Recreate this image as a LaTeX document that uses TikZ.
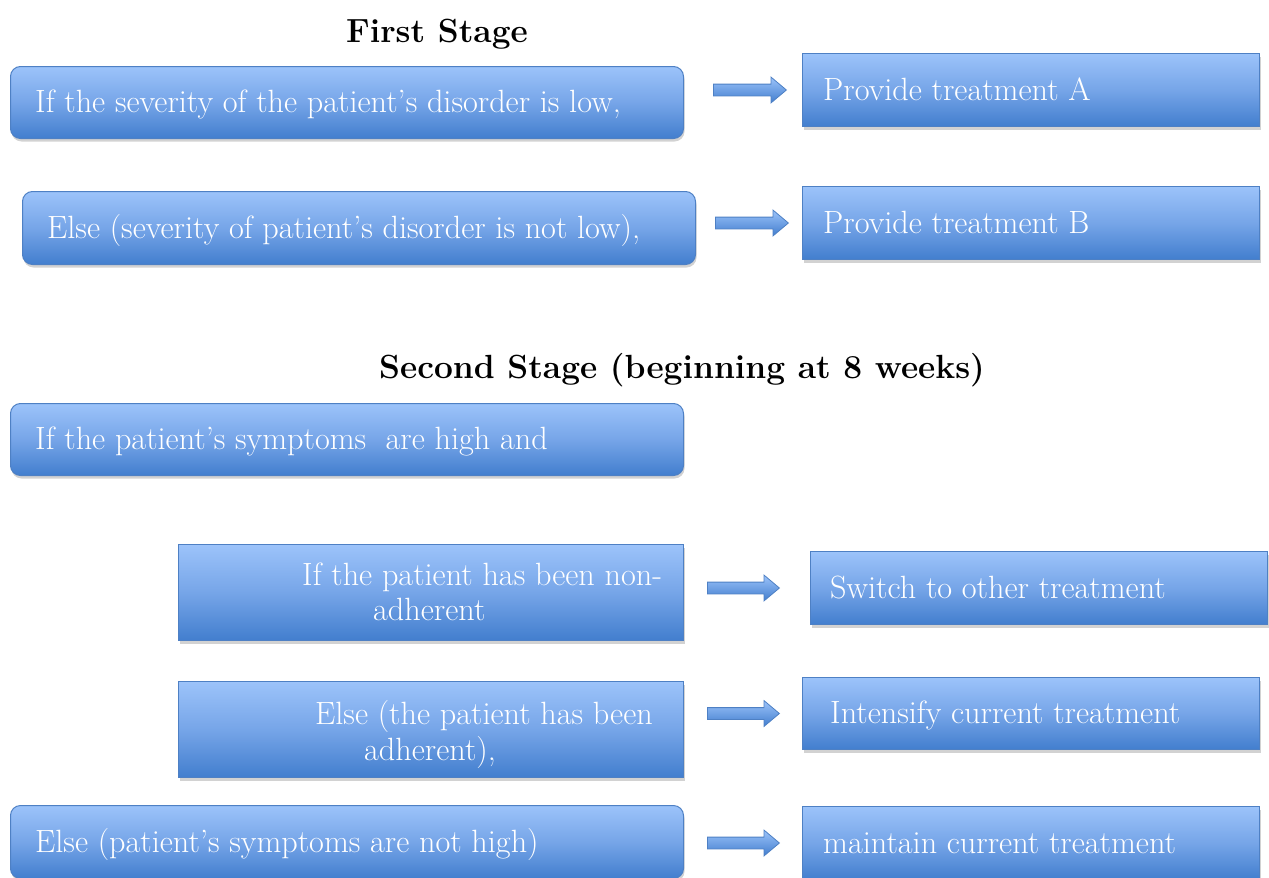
\documentclass[tikz,border=0pt]{standalone}
\usepackage{tikz}
\usetikzlibrary{shapes.arrows,shadows,calc}
\definecolor{topblue}{RGB}{156,195,250}
\definecolor{midblue}{RGB}{118,165,232}
\definecolor{botblue}{RGB}{66,126,206}
\definecolor{edgeblue}{RGB}{78,128,196}
\tikzset{
  x=1pt, y=-1pt,
  boxbase/.style={draw=edgeblue, line width=1pt, top color=topblue, bottom color=botblue,
    middle color=midblue, anchor=north west, inner sep=0pt,
    drop shadow={shadow xshift=1pt, shadow yshift=-3pt, opacity=0.25, fill=black!70}},
  rbox/.style={boxbase, rounded corners=10pt},
  sbox/.style={boxbase},
  lbl/.style={text=white, anchor=base west, inner sep=0pt, font=\fontsize{32.2}{38}\selectfont},
  ttl/.style={anchor=base, inner sep=0pt, font=\fontsize{33.5}{40}\selectfont\bfseries},
  arrowshape/.style={single arrow, draw=edgeblue, line width=0.8pt, top color=topblue,
    bottom color=botblue, minimum width=25pt, inner sep=5.5pt,
    single arrow head extend=7pt, single arrow tip angle=80, anchor=tail},
  barrow/.style={to path={let \p1=(\tikztostart), \p2=(\tikztotarget),
    \n1={veclen(\x2-\x1,\y2-\y1)} in
    node[arrowshape, minimum height=\n1, at=(\tikztostart)] {}}}
}
\begin{document}
\begin{tikzpicture}
\useasboundingbox (0,0) rectangle (1269,878);

% titles
\node[ttl] (t1) at (437,42) {First Stage};
\node[ttl] (t2) at (682,378) {Second Stage (beginning at 8 weeks)};

% first stage
\node[rbox, minimum width=673, minimum height=72] (c1) at (10,66) {};
\node[lbl] (c1t) at ([xshift=25pt,yshift=-10pt]c1.west) {If the severity of the patient’s disorder is low,};
\node[rbox, minimum width=673, minimum height=73] (c2) at (22,191) {};
\node[lbl] (c2t) at ([xshift=25pt,yshift=-10pt]c2.west) {Else (severity of patient’s disorder is not low),};

\node[sbox, minimum width=457, minimum height=73] (a1) at (802,53) {};
\node[lbl] (a1t) at ([xshift=21pt,yshift=-10pt]a1.west) {Provide treatment A};
\node[sbox, minimum width=457, minimum height=73] (a2) at (802,186) {};
\node[lbl] (a2t) at ([xshift=21pt,yshift=-10pt]a2.west) {Provide treatment B};

% second stage
\node[rbox, minimum width=673, minimum height=72] (c3) at (10,403) {};
\node[lbl] (c3t) at ([xshift=25pt,yshift=-10pt]c3.west) {If the patient’s symptoms\ \ are high and};

\node[sbox, minimum width=505, minimum height=96] (c4) at (178,544) {};
\node[lbl] (c4ta) at (302,585) {If the patient has been non-};
\node[lbl] (c4tb) at (373,620) {adherent};
\node[sbox, minimum width=505, minimum height=96] (c5) at (178,681) {};
\node[lbl] (c5ta) at (315,724) {Else (the patient has been};
\node[lbl] (c5tb) at (364,760) {adherent),};

\node[rbox, minimum width=673, minimum height=73] (c6) at (10,805) {};
\node[lbl] (c6t) at ([xshift=25pt,yshift=-10pt]c6.west) {Else (patient’s symptoms are not high)};

\node[sbox, minimum width=457, minimum height=73] (a3) at (810,551) {};
\node[lbl] (a3t) at ([xshift=20pt,yshift=-10pt]a3.west) {Switch to other treatment};
\node[sbox, minimum width=457, minimum height=72] (a4) at (802,677) {};
\node[lbl] (a4t) at ([xshift=28pt,yshift=-10pt]a4.west) {Intensify current treatment};
\node[sbox, minimum width=457, minimum height=73] (a5) at (802,806) {};
\node[lbl] (a5t) at ([xshift=21pt,yshift=-10pt]a5.west) {maintain current treatment};

% block arrows
\draw[barrow] ([xshift=29pt]c1.east |- a1.west) to ([xshift=-16pt]a1.west);
\draw[barrow] ([xshift=19pt]c2.east |- a2.west) to ([xshift=-14pt]a2.west);
\draw[barrow] ([xshift=23pt]c4.east |- a3.west) to ([xshift=-31pt]a3.west);
\draw[barrow] ([xshift=23pt]c5.east |- a4.west) to ([xshift=-23pt]a4.west);
\draw[barrow] ([xshift=23pt]c6.east |- a5.west) to ([xshift=-23pt]a5.west);
\end{tikzpicture}
\end{document}
